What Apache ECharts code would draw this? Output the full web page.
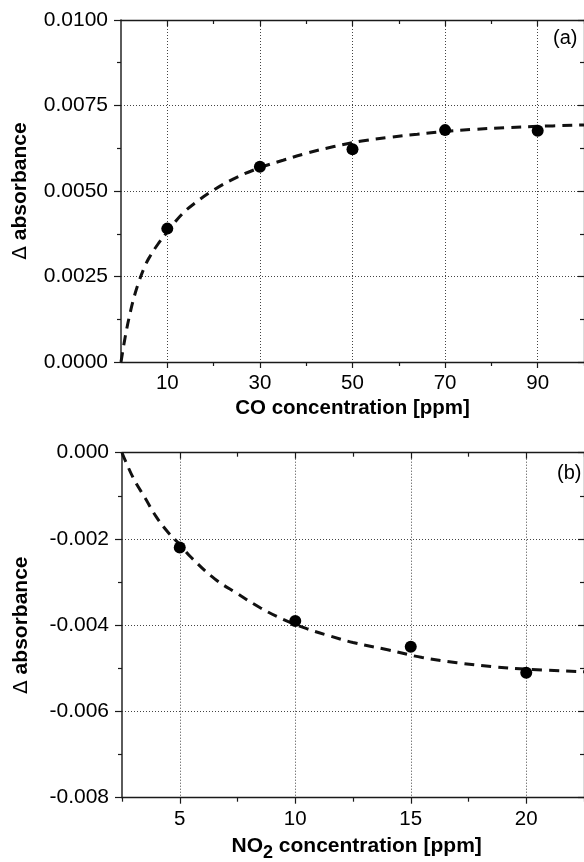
<!DOCTYPE html>
<html><head><meta charset="utf-8">
<script src="https://cdn.jsdelivr.net/npm/echarts@6/dist/echarts.min.js"></script>
<style>html,body{margin:0;padding:0;background:#fff}#c{width:584px;height:862px}</style>
</head><body><div id="c"></div>
<script>
// ---- data (a): CO ----
const coX = [10, 30, 50, 70, 90];
const coY = [0.0039, 0.00571, 0.00622, 0.00678, 0.00676];
const coFitX = [0, 1, 2, 3, 4, 5, 6, 8, 10, 13, 16, 20, 25, 30, 35, 40, 46, 52, 58, 64, 70, 76, 83, 90, 100];
const coFitY = [0, 0.0008, 0.00145, 0.00198, 0.0024, 0.00275, 0.00303, 0.00345, 0.0038, 0.0043, 0.00465, 0.00503, 0.0054, 0.00568, 0.0059, 0.0061, 0.0063, 0.00646, 0.00657, 0.00666, 0.00674, 0.0068, 0.00685, 0.00689, 0.00693];
const coMajorTicks = [10, 30, 50, 70, 90];
const coMinorTicks = [20, 40, 60, 80, 100];
// ---- data (b): NO2 ----
const no2X = [5, 10, 15, 20];
const no2Y = [-0.0022, -0.0039, -0.0045, -0.0051];
const no2FitX = [2.5, 3, 3.5, 4, 4.5, 5, 5.5, 6.5, 7.5, 8.5, 9.5, 10.5, 11.5, 12.5, 14, 15.5, 17, 18.5, 20, 22.5];
const no2FitY = [0, -0.0006, -0.00105, -0.0015, -0.00185, -0.00213, -0.00243, -0.00292, -0.00327, -0.0036, -0.00387, -0.00408, -0.00425, -0.0044, -0.00457, -0.00475, -0.00487, -0.00496, -0.00502, -0.00508];
const no2MajorTicks = [5, 10, 15, 20];
const no2MinorTicks = [2.5, 7.5, 12.5, 17.5, 22.5];
// axis title pieces (b): "NO" + subscript "2" + rest
const no2TitleParts = ['NO', '2', ' concentration [ppm]'];

const FONT = "'Liberation Sans', Arial, Helvetica, sans-serif";
const AX = '#1a1a1a';
const gridLine = { show: true, lineStyle: { color: '#444', width: 1, type: [1, 2] } };

function xAxes(gi, min, max, major, minor, name, nameGap, nameStyle) {
  const base = { type: 'value', gridIndex: gi, min: min, max: max, splitLine: { show: false } };
  return [
    Object.assign({}, base, {
      position: 'bottom',
      axisLine: { show: true, onZero: false, lineStyle: { color: AX, width: 1.3 } },
      axisTick: { show: true, customValues: major, length: 6, lineStyle: { color: AX, width: 1.2 } },
      axisLabel: { show: true, customValues: major, margin: 11, fontSize: 20.5, color: '#000', fontFamily: FONT },
      splitLine: gridLine,
      name: name, nameLocation: 'middle', nameGap: nameGap, nameTextStyle: nameStyle
    }),
    Object.assign({}, base, {
      position: 'bottom',
      axisLine: { show: false, onZero: false },
      axisTick: { show: true, customValues: minor, length: 4, lineStyle: { color: AX, width: 1.2 } },
      axisLabel: { show: false }
    }),
    Object.assign({}, base, {
      position: 'top',
      axisLine: { show: true, onZero: false, lineStyle: { color: AX, width: 1.3 } },
      axisTick: { show: true, inside: true, customValues: major, length: 6, lineStyle: { color: AX, width: 1.2 } },
      axisLabel: { show: false }
    }),
    Object.assign({}, base, {
      position: 'top',
      axisLine: { show: false, onZero: false },
      axisTick: { show: true, inside: true, customValues: minor, length: 4, lineStyle: { color: AX, width: 1.2 } },
      axisLabel: { show: false }
    })
  ];
}

function yAxes(gi, min, max, interval, digits) {
  const yName = '{d|\u0394} absorbance';
  return [
    {
      type: 'value', gridIndex: gi, min: min, max: max, interval: interval, position: 'left',
      axisLine: { show: true, onZero: false, lineStyle: { color: '#333', width: 1.6 } },
      axisTick: { show: true, length: 7, lineStyle: { color: AX, width: 1.2 } },
      minorTick: { show: true, splitNumber: 2, length: 4, lineStyle: { color: AX, width: 1.2 } },
      axisLabel: { margin: 13, fontSize: 21, color: '#000', fontFamily: FONT, formatter: v => v.toFixed(digits) },
      splitLine: gridLine,
      name: yName, nameLocation: 'middle', nameGap: 90,
      nameTextStyle: { fontSize: 21, fontWeight: 'bold', color: '#000', fontFamily: FONT,
        rich: { d: { fontSize: 20, fontWeight: 'normal', color: '#000', fontFamily: "'DejaVu Sans', sans-serif" } } }
    },
    {
      type: 'value', gridIndex: gi, min: min, max: max, interval: interval, position: 'right',
      axisLine: { show: true, onZero: false, lineStyle: { color: AX, width: 1.3 } },
      axisTick: { show: true, inside: true, length: 6, lineStyle: { color: AX, width: 1.2 } },
      minorTick: { show: true, splitNumber: 2, length: 4, lineStyle: { color: AX, width: 1.2 } },
      axisLabel: { show: false },
      splitLine: { show: false }
    }
  ];
}

const boldName = { fontSize: 20.5, fontWeight: 'bold', color: '#000', fontFamily: FONT };

// build the NO2 title as real text pieces, measured so the subscript sits lower
const G2 = { left: 122, top: 452.7, width: 469.3, height: 345 };
const mctx = document.createElement('canvas').getContext('2d');
const mainFont = 'bold 21px ' + FONT, subFont = 'bold 18px ' + FONT;
mctx.font = mainFont; const w0 = mctx.measureText(no2TitleParts[0]).width;
const w2 = mctx.measureText(no2TitleParts[2]).width;
mctx.font = subFont; const w1 = mctx.measureText(no2TitleParts[1]).width;
const totalW = w0 + w1 + w2;
const tx0 = G2.left + G2.width / 2 - totalW / 2;
const titleY = G2.top + G2.height + 49;   // middle of main text
const subY = titleY + 6;

const zip = (a, b) => a.map((v, i) => [v, b[i]]);

const chart = echarts.init(document.getElementById('c'), null, { renderer: 'canvas' });
chart.setOption({
  animation: false,
  backgroundColor: '#fff',
  grid: [
    { left: 121, top: 20, width: 466.7, height: 342 },
    G2
  ],
  xAxis: [].concat(
    xAxes(0, 0, 100, coMajorTicks, coMinorTicks, 'CO concentration [ppm]', 36, boldName),
    xAxes(1, 2.5, 22.5, no2MajorTicks, no2MinorTicks, '', 35, boldName)
  ),
  yAxis: [].concat(
    yAxes(0, 0, 0.01, 0.0025, 4),
    yAxes(1, -0.008, 0, 0.002, 3)
  ),
  graphic: [
    { type: 'text', left: 553, top: 28, style: { text: '(a)', fontSize: 20, fill: '#000', fontFamily: FONT } },
    { type: 'text', left: 557, top: 463, style: { text: '(b)', fontSize: 20, fill: '#000', fontFamily: FONT } },
    { type: 'text', x: tx0, y: titleY, style: { text: no2TitleParts[0], font: mainFont, fill: '#000', verticalAlign: 'middle', align: 'left' } },
    { type: 'text', x: tx0 + w0, y: subY, style: { text: no2TitleParts[1], font: subFont, fill: '#000', verticalAlign: 'middle', align: 'left' } },
    { type: 'text', x: tx0 + w0 + w1, y: titleY, style: { text: no2TitleParts[2], font: mainFont, fill: '#000', verticalAlign: 'middle', align: 'left' } }
  ],
  series: [
    { type: 'line', xAxisIndex: 0, yAxisIndex: 0, data: zip(coFitX, coFitY), smooth: 0.4, showSymbol: false,
      lineStyle: { color: '#111', width: 3, type: [10, 7] }, z: 3 },
    { type: 'scatter', xAxisIndex: 0, yAxisIndex: 0, data: zip(coX, coY), symbol: 'circle', symbolSize: 12,
      itemStyle: { color: '#000', opacity: 1 }, z: 4 },
    { type: 'line', xAxisIndex: 4, yAxisIndex: 2, data: zip(no2FitX, no2FitY), smooth: 0.4, showSymbol: false,
      lineStyle: { color: '#111', width: 3, type: [10, 7] }, z: 3 },
    { type: 'scatter', xAxisIndex: 4, yAxisIndex: 2, data: zip(no2X, no2Y), symbol: 'circle', symbolSize: 12,
      itemStyle: { color: '#000', opacity: 1 }, z: 4 }
  ]
});
</script></body></html>
